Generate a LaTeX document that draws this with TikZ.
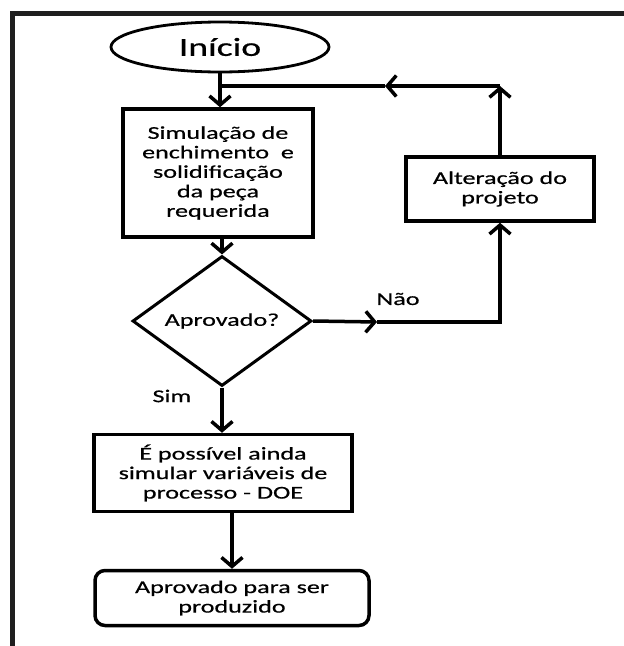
\documentclass[tikz,border=0pt]{standalone}
\usepackage{fontspec}
\setmainfont{Carlito}[FakeStretch=1.45,FakeBold=0.6]
\usetikzlibrary{arrows.meta,shapes.geometric}

\tikzset{
  txt/.style={font=\fontsize{18}{19.5}\selectfont, align=center, text=black},
  procbox/.style={txt, draw, rectangle, line width=3.5pt, inner sep=0pt},
  termbox/.style={procbox, rounded corners=10pt},
  startbox/.style={draw, ellipse, line width=2.8pt, inner sep=0pt,
    font=\fontsize{26}{28}\selectfont},
  decbox/.style={txt, draw, diamond, line width=3pt, inner sep=0pt},
  link/.style={line width=3.5pt},
  arr/.style={link, -{Straight Barb[length=9pt,width=21pt]}},
  frame/.style={line width=5pt, draw=black!88}
}

\begin{document}
\begin{tikzpicture}[x=1pt,y=-1pt]
\useasboundingbox (0,0) rectangle (624,646);

% outer frame (top and left edges)
\draw[frame] (12,646) -- (12,13) -- (624,13);

% flowchart nodes
\node[startbox, minimum width=218pt, minimum height=50pt] (start) at (220,47) {Início};
\node[procbox, minimum width=190pt, minimum height=128pt] (sim) at (218,173)
  {Simulação de\\enchimento \ e\\solidificação\\da peça\\requerida};
\node[decbox, minimum width=179pt, minimum height=104pt] (dec) at (222,321) {Aprovado?};
\node[procbox, minimum width=188pt, minimum height=64pt] (alt) at (500,189)
  {Alteração do\\projeto};
\node[procbox, minimum width=258pt, minimum height=77pt] (doe) at (223,473)
  {É possível ainda\\simular variáveis de\\processo - DOE};
\node[termbox, minimum width=274pt, minimum height=55pt] (end) at (232,598)
  {Aprovado para ser\\produzido};

% labels
\node[txt] (nao) at (398,299) {Não};
\node[txt] (sim lbl) at (172,396) {Sim};

% helper points of the feedback loop
\coordinate (noMid) at (377,322);
\coordinate (loopR) at (500,86);
\coordinate (loopM) at (385,86);
\coordinate (loopL) at (220,86);

% connectors
\draw[arr] (start.south) -- (start.south |- sim.north);
\draw[arr] (dec.north |- sim.south) -- (dec.north);
\draw[arr] (dec.south) -- (dec.south |- doe.north);
\draw[arr] (end.north |- doe.south) -- (end.north);

\draw[arr] (dec.east) -- (noMid);
\draw[arr] (noMid) -| (alt.south);
\draw[arr] (alt.north) -- (loopR);
\draw[arr] (loopR) -- (loopM);
\draw[link] (loopM) -- (loopL);
\end{tikzpicture}
\end{document}
